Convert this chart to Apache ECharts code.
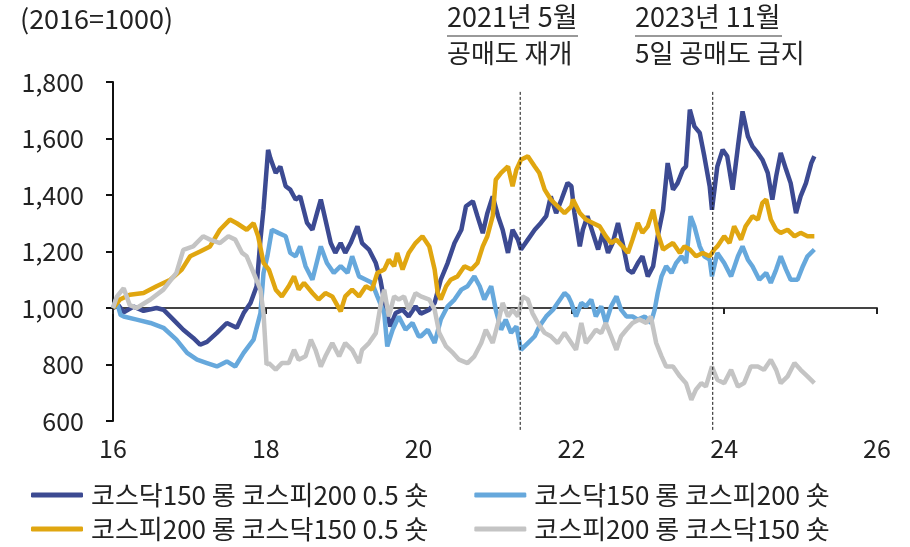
<!DOCTYPE html>
<html><head><meta charset="utf-8">
<script src="https://cdn.jsdelivr.net/npm/echarts@6/dist/echarts.min.js"></script>
<style>html,body{margin:0;padding:0;background:#fff}#c{width:910px;height:547px}</style>
</head><body><div id="c"></div>
<script>
// ---------- DATA ----------
var seriesNames = ['코스닥150 롱 코스피200 0.5 숏','코스닥150 롱 코스피200 숏','코스피200 롱 코스닥150 0.5 숏','코스피200 롱 코스닥150 숏'];
var xTickLabels = [16,18,20,22,24,26];
var yTickLabels = [600,800,1000,1200,1400,1600,1800];
var eventYears = [21.33, 23.85];
var eventTitles = ['2021년 5월','2023년 11월'];
var eventNotes = ['공매도 재개','5일 공매도 금지'];

var navyT = [16.00,16.07,16.14,16.27,16.40,16.57,16.66,16.79,16.92,17.05,17.14,17.23,17.36,17.49,17.62,17.71,17.80,17.88,17.93,17.97,18.03,18.06,18.13,18.19,18.26,18.32,18.39,18.45,18.54,18.61,18.67,18.72,18.78,18.85,18.91,18.98,19.04,19.11,19.20,19.26,19.35,19.44,19.50,19.57,19.63,19.70,19.79,19.87,19.96,20.03,20.14,20.21,20.29,20.38,20.47,20.56,20.62,20.71,20.77,20.84,20.90,20.97,21.04,21.10,21.17,21.23,21.30,21.34,21.43,21.52,21.60,21.67,21.73,21.80,21.87,21.95,22.00,22.04,22.11,22.15,22.21,22.28,22.35,22.41,22.48,22.54,22.61,22.67,22.74,22.80,22.87,22.93,23.00,23.07,23.13,23.20,23.26,23.33,23.39,23.46,23.50,23.55,23.61,23.68,23.74,23.81,23.84,23.91,23.98,24.04,24.11,24.18,24.24,24.31,24.37,24.44,24.50,24.57,24.63,24.68,24.74,24.81,24.87,24.94,25.00,25.07,25.14,25.18];
var navyV = [1000,1010,985,1005,990,1000,994,959,923,894,870,880,912,947,930,982,1018,1077,1242,1350,1560,1530,1478,1501,1431,1419,1384,1395,1301,1277,1336,1384,1313,1230,1195,1230,1195,1230,1289,1230,1207,1159,1100,994,935,982,994,970,1006,980,994,1018,1100,1159,1230,1277,1360,1378,1325,1265,1336,1395,1325,1277,1195,1277,1242,1207,1242,1277,1301,1325,1395,1336,1384,1443,1431,1336,1218,1277,1325,1266,1207,1266,1195,1230,1301,1230,1136,1124,1159,1183,1112,1148,1254,1348,1513,1419,1442,1490,1501,1702,1643,1620,1537,1431,1348,1501,1560,1537,1419,1572,1696,1608,1572,1549,1525,1478,1384,1466,1549,1490,1442,1336,1395,1442,1513,1537];

var lblueT = [16.00,16.04,16.10,16.14,16.31,16.49,16.66,16.83,16.97,17.10,17.23,17.36,17.49,17.60,17.71,17.84,17.93,17.97,18.02,18.08,18.17,18.26,18.32,18.39,18.45,18.52,18.61,18.72,18.80,18.89,18.98,19.07,19.13,19.22,19.31,19.39,19.46,19.55,19.59,19.66,19.74,19.83,19.92,20.00,20.03,20.12,20.21,20.29,20.38,20.47,20.56,20.64,20.73,20.80,20.86,20.95,21.01,21.08,21.14,21.21,21.28,21.34,21.43,21.52,21.58,21.67,21.76,21.82,21.91,21.96,22.00,22.06,22.13,22.19,22.26,22.32,22.39,22.45,22.52,22.59,22.65,22.72,22.80,22.87,22.96,23.04,23.09,23.13,23.18,23.24,23.31,23.37,23.44,23.50,23.56,23.61,23.68,23.74,23.81,23.84,23.91,24.00,24.09,24.18,24.24,24.31,24.37,24.46,24.55,24.61,24.68,24.74,24.81,24.87,24.96,25.03,25.09,25.18];
var lblueV = [1000,1030,975,970,959,947,930,888,841,817,805,793,811,793,841,888,982,1124,1183,1277,1265,1254,1195,1183,1218,1148,1100,1218,1159,1124,1148,1124,1183,1112,1100,1089,1041,982,864,923,970,923,947,900,900,923,876,959,1006,1030,1065,1077,1112,1077,1030,1077,994,923,959,912,935,852,876,900,935,970,994,1018,1053,1041,1018,970,1018,1006,1030,970,1006,947,1006,1041,994,970,970,959,970,947,994,1053,1112,1148,1124,1159,1183,1159,1325,1289,1218,1183,1171,1112,1195,1159,1112,1183,1218,1171,1148,1100,1124,1089,1136,1183,1136,1100,1100,1148,1183,1207];

var goldT = [16.00,16.09,16.22,16.40,16.57,16.75,16.90,17.01,17.14,17.27,17.40,17.53,17.62,17.75,17.84,17.90,17.97,18.04,18.13,18.21,18.30,18.37,18.43,18.50,18.61,18.69,18.78,18.87,18.98,19.04,19.13,19.22,19.31,19.39,19.46,19.55,19.61,19.68,19.72,19.79,19.87,19.96,20.05,20.14,20.21,20.25,20.29,20.36,20.42,20.51,20.60,20.69,20.77,20.84,20.90,20.97,21.01,21.08,21.17,21.23,21.28,21.34,21.43,21.52,21.58,21.65,21.73,21.82,21.91,22.00,22.02,22.11,22.19,22.28,22.37,22.45,22.52,22.59,22.67,22.74,22.80,22.87,22.93,23.00,23.07,23.13,23.20,23.26,23.33,23.42,23.48,23.55,23.63,23.72,23.81,23.87,23.91,24.00,24.07,24.13,24.22,24.28,24.37,24.44,24.50,24.55,24.61,24.68,24.74,24.83,24.92,25.00,25.09,25.18];
var goldV = [1000,1030,1047,1053,1077,1100,1136,1183,1200,1218,1277,1313,1300,1277,1300,1254,1160,1136,1065,1041,1077,1112,1065,1089,1053,1030,1053,1041,988,1041,1065,1041,1077,1065,1124,1136,1171,1148,1195,1136,1195,1230,1254,1218,1136,1053,1030,1077,1100,1112,1148,1136,1159,1218,1254,1325,1454,1478,1501,1431,1490,1525,1537,1501,1478,1419,1384,1360,1336,1360,1384,1336,1313,1301,1289,1254,1230,1242,1218,1195,1242,1301,1266,1289,1348,1266,1207,1218,1230,1195,1218,1207,1183,1195,1183,1207,1218,1254,1230,1289,1242,1289,1325,1313,1372,1384,1313,1277,1266,1277,1254,1266,1254,1254];

var grayT = [16.00,16.05,16.14,16.22,16.31,16.49,16.66,16.83,16.92,17.05,17.18,17.27,17.40,17.51,17.60,17.69,17.75,17.84,17.93,17.97,18.01,18.04,18.13,18.21,18.30,18.37,18.43,18.52,18.59,18.65,18.72,18.78,18.87,18.96,19.04,19.13,19.22,19.26,19.35,19.44,19.50,19.55,19.61,19.68,19.74,19.81,19.87,19.96,20.03,20.14,20.21,20.27,20.36,20.45,20.53,20.64,20.73,20.82,20.88,20.97,21.04,21.10,21.17,21.23,21.30,21.36,21.43,21.49,21.56,21.65,21.73,21.82,21.91,22.00,22.06,22.13,22.19,22.26,22.32,22.39,22.45,22.52,22.59,22.65,22.72,22.80,22.89,22.98,23.04,23.11,23.18,23.24,23.33,23.42,23.50,23.57,23.63,23.70,23.76,23.84,23.91,24.00,24.09,24.18,24.26,24.35,24.44,24.52,24.61,24.68,24.74,24.83,24.92,25.00,25.09,25.18];
var grayV = [1000,1040,1070,1010,1000,1030,1065,1124,1206,1218,1254,1242,1230,1254,1242,1195,1183,1124,1065,982,800,805,782,805,805,852,817,829,888,852,793,829,876,829,876,852,805,852,876,911,1006,1065,970,1041,1030,1041,994,1053,1041,1030,994,912,864,841,817,805,829,876,923,876,947,1018,970,994,970,1041,1030,982,947,912,900,876,912,876,852,947,876,900,923,911,947,900,852,900,923,947,959,947,970,876,829,793,793,758,734,675,711,734,722,793,746,734,781,722,734,793,793,781,817,781,734,758,805,781,758,734];

// ---------- CHART ----------
var FONT = '"Noto Sans CJK KR", "Noto Sans", sans-serif';
var colors = ['#3c4a92','#66a8dc','#e0a610','#c4c4c4'];
function pairs(t, v){ return t.map(function(x,i){ return [x, v[i]]; }); }
var dataSets = [pairs(navyT,navyV), pairs(lblueT,lblueV), pairs(goldT,goldV), pairs(grayT,grayV)];

var chart = echarts.init(document.getElementById('c'), null, {renderer:'canvas'});
var series = dataSets.map(function(d,i){
  return {name: seriesNames[i], type:'line', data:d, showSymbol:false, symbol:'none',
    lineStyle:{width:4.5, color:colors[i]}, itemStyle:{color:colors[i]}, z: 2+i, animation:false};
});
series.push({
  type:'custom', name:'events', clip:false, z:10, silent:true,
  data: eventYears.map(function(y){ return [y, 1000]; }),
  encode:{x:0, y:1},
  renderItem: function(params, api){
    var x = api.value(0);
    var p1 = api.coord([x, 1765]);
    var p2 = api.coord([x, 568]);
    return {type:'line', shape:{x1:p1[0], y1:p1[1], x2:p2[0], y2:p2[1]},
      style:{stroke:'#111', lineWidth:1, lineDash:[3,2]}};
  }
});

var option = {
  animation:false,
  grid:{left:113, right:33, top:82, bottom:126},
  xAxis:[{
    type:'value', min:xTickLabels[0], max:xTickLabels[xTickLabels.length-1], interval:2,
    axisLine:{show:false}, axisTick:{show:false}, splitLine:{show:false},
    axisLabel:{fontSize:25, color:'#222', fontFamily:FONT, margin:15}
  },{
    type:'value', min:xTickLabels[0], max:xTickLabels[xTickLabels.length-1], interval:2, position:'bottom',
    axisLine:{show:true, onZero:true, onZeroAxisIndex:1, lineStyle:{color:'#444', width:2}},
    axisTick:{show:true, length:6, lineStyle:{color:'#222', width:2}},
    axisLabel:{show:false}, splitLine:{show:false}
  }],
  yAxis:[{
    type:'value', min:yTickLabels[0], max:yTickLabels[yTickLabels.length-1], interval:200,
    axisLine:{show:true, lineStyle:{color:'#111', width:2}},
    axisTick:{show:true, length:7, lineStyle:{color:'#111', width:2}},
    splitLine:{show:false},
    axisLabel:{fontSize:25, color:'#222', fontFamily:FONT, margin:29,
      formatter:function(v){ return v.toLocaleString('en-US'); }}
  },{
    type:'value', min:yTickLabels[0]-1000, max:yTickLabels[yTickLabels.length-1]-1000, show:false
  }],
  legend:[{
    data:[seriesNames[0], seriesNames[1]], left:26, top:477, itemGap:46, itemWidth:52, itemHeight:5,
    icon:'roundRect', textStyle:{fontSize:26, color:'#222', fontFamily:FONT, padding:[0,0,0,3]}
  },{
    data:[seriesNames[2], seriesNames[3]], left:26, top:511, itemGap:46, itemWidth:52, itemHeight:5,
    icon:'roundRect', textStyle:{fontSize:26, color:'#222', fontFamily:FONT, padding:[0,0,0,3]}
  }],
  graphic:[
    {type:'text', left:20, top:5, style:{text:'(2016=1000)', font:'27px '+FONT, fill:'#222'}},
    {type:'text', left:447, top:3, style:{text:eventTitles[0], font:'27px '+FONT, fill:'#222'}},
    {type:'line', shape:{x1:447, y1:36, x2:578, y2:36}, style:{stroke:'#777', lineWidth:1.5}},
    {type:'text', left:447, top:40, style:{text:eventNotes[0], font:'26px '+FONT, fill:'#222'}},
    {type:'text', left:635, top:3, style:{text:eventTitles[1], font:'27px '+FONT, fill:'#222'}},
    {type:'line', shape:{x1:635, y1:36, x2:782, y2:36}, style:{stroke:'#777', lineWidth:1.5}},
    {type:'text', left:635, top:40, style:{text:eventNotes[1], font:'26px '+FONT, fill:'#222'}}
  ],
  series:series
};
chart.setOption(option);
</script></body></html>
